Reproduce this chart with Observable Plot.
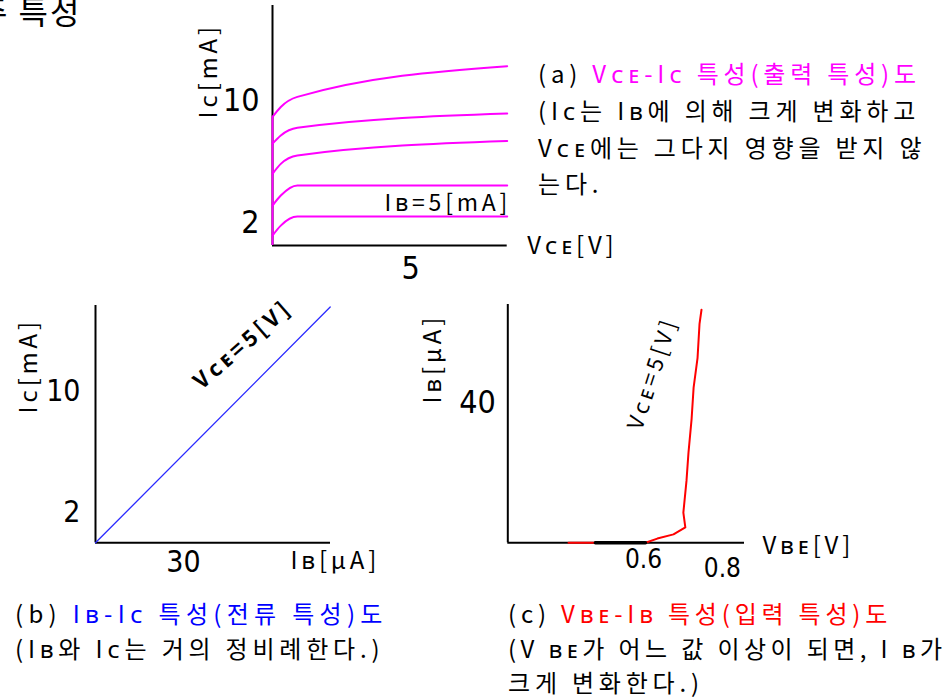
<!DOCTYPE html>
<html><head><meta charset="utf-8">
<script src="https://cdn.jsdelivr.net/npm/d3@7"></script>
<script src="https://cdn.jsdelivr.net/npm/@observablehq/plot@0.6"></script>
<style>
html,body{margin:0;padding:0;background:#fff;}
#root{position:relative;width:948px;height:700px;overflow:hidden;font-family:"Noto Sans CJK KR","Noto Sans",sans-serif;}
.ln{position:absolute;white-space:nowrap;color:#000;}
.svgbox{position:absolute;}
</style></head><body><div id="root"></div>
<script>
// ---------- data ----------
// (a) Vce-Ic output characteristics: Vce [V] sample points, Ic [mA] per curve
const aVce = [0, 0.3, 0.9, 8.5];
const aIc1 = [8.91, 9.56, 10.22, 12.23];
const aIc2 = [7.16, 7.70, 8.20, 9.13];
const aIc3 = [5.19, 5.84, 6.39, 7.33];
const aIc4 = [3.11, 3.77, 4.43, 4.43];
const aIc5 = [1.15, 1.80, 2.39, 2.39];
const aTicksY = [2, 10];
const aTicksX = [5];
// (b) Ib-Ic current characteristic
const bIb = [0, 80];
const bIc = [0, 15.6];
const bTicksY = [2, 10];
const bTicksX = [30];
// (c) Vbe-Ib input characteristic
const cVbe = [0.410, 0.478, 0.605, 0.635, 0.676, 0.706, 0.701, 0.709, 0.714, 0.722, 0.727, 0.737, 0.742, 0.747];
const cIb  = [0, 0, 0, 1.2, 2.4, 4.4, 8.6, 17.7, 25.7, 35.4, 44.2, 52.7, 62.4, 66.4];
const cDark = [0.478, 0.605];
const cTicksY = [40];
const cTicksX = [0.6, 0.8];

const MAG = "#ff00ff", BLUE = "#2a2aff", RED = "#ff0000";
const KR = "'Noto Sans CJK KR','Noto Sans',sans-serif";
const NUM = "'Liberation Sans Narrow','DejaVu Sans Condensed',sans-serif";
const root = document.getElementById("root");
function place(svg, left, top) {
  // wider letter spacing for the label texts (not the tick numbers)
  svg.querySelectorAll("g[aria-label='text']").forEach(g => {
    if ((g.getAttribute("font-family") || "") !== NUM) g.setAttribute("letter-spacing", "3.8");
  });
  const d = document.createElement("div");
  d.className = "svgbox"; d.style.left = left + "px"; d.style.top = top + "px";
  d.appendChild(svg); root.appendChild(d);
}
const baseStyle = {fontFamily: KR, background: "transparent", overflow: "visible", color: "#000"};

// ---------- (a) ----------
const aCurves = [aIc1, aIc2, aIc3, aIc4, aIc5];
const aData = aCurves.flatMap((ys, k) => ys.map((y, j) => ({vce: aVce[j], ic: y, k})));
const aYmin = 0.5;
place(Plot.plot({
  width: 440, height: 280,
  marginLeft: 92, marginRight: 113.3, marginTop: 5, marginBottom: 35,
  x: {domain: [0, 8.5], axis: null},
  y: {domain: [aYmin, 16.2], axis: null},
  style: baseStyle,
  marks: [
    Plot.ruleX([0], {stroke: "#000", strokeWidth: 2}),
    Plot.ruleY([aYmin], {stroke: "#000", strokeWidth: 2}),
    Plot.ruleX([0], {y1: aYmin, y2: aIc1[0], stroke: MAG, strokeWidth: 2}),
    Plot.line(aData, {x: "vce", y: "ic", z: "k", stroke: MAG, strokeWidth: 2, curve: "monotone-x"}),
    Plot.text(aTicksY, {x: 0, y: d => d, text: d => String(d), textAnchor: "end", dx: -13, fontSize: 32, fontFamily: NUM}),
    Plot.text(aTicksX, {x: d => d, y: aYmin, text: d => String(d), dy: 23, fontSize: 32, fontFamily: NUM}),
    Plot.text(["Iᴄ[mA]"], {frameAnchor: "top-left", dx: -73, dy: 113, rotate: -90, textAnchor: "start", fontSize: 24, fontFamily: KR}),
    Plot.text(["Vᴄᴇ[V]"], {frameAnchor: "bottom-right", dx: 20, dy: 8, textAnchor: "start", fontSize: 24, fontFamily: KR}),
    Plot.text([{vce: aVce[aVce.length - 1], ic: aIc5[aIc5.length - 1]}], {x: "vce", y: "ic", text: () => "Iʙ=5[mA]", textAnchor: "end", dx: 4, dy: -13, fontSize: 23, fontFamily: KR})
  ]
}), 180, 0);

// ---------- (b) ----------
const bData = bIb.map((v, i) => ({ib: v, ic: bIc[i]}));
place(Plot.plot({
  width: 400, height: 300,
  marginLeft: 95, marginRight: 70, marginTop: 15, marginBottom: 47.7,
  x: {domain: [0, 80.1], axis: null},
  y: {domain: [0, 15.7], axis: null},
  style: baseStyle,
  marks: [
    Plot.ruleX([0], {stroke: "#000", strokeWidth: 2}),
    Plot.ruleY([0], {stroke: "#000", strokeWidth: 2}),
    Plot.line(bData, {x: "ib", y: "ic", stroke: BLUE, strokeWidth: 1.3}),
    Plot.text(bTicksY, {x: 0, y: d => d, text: d => String(d), textAnchor: "end", dx: -15, fontSize: 30, fontFamily: NUM}),
    Plot.text(bTicksX, {x: d => d, y: 0, text: d => String(d), dy: 20, fontSize: 30, fontFamily: NUM}),
    Plot.text(["Iᴄ[mA]"], {frameAnchor: "top-left", dx: -76, dy: 108, rotate: -90, textAnchor: "start", fontSize: 24, fontFamily: KR}),
    Plot.text(["Iʙ[μA]"], {frameAnchor: "bottom-right", dx: -40, dy: 26, textAnchor: "start", fontSize: 24, fontFamily: KR}),
    Plot.text(["Vᴄᴇ=5[V]"], {frameAnchor: "top-left", dx: 96, dy: 73, rotate: -41, textAnchor: "start", fontSize: 22, fontWeight: "bold", fontFamily: KR})
  ]
}), 0, 290);

// ---------- (c) ----------
const cData = cVbe.map((v, i) => ({vbe: v, ib: cIb[i]}));
place(Plot.plot({
  width: 548, height: 300,
  marginLeft: 107.3, marginRight: 204, marginTop: 14, marginBottom: 47.7,
  x: {domain: [0.256, 0.856], axis: null},
  y: {domain: [0, 67.9], axis: null},
  style: baseStyle,
  marks: [
    Plot.ruleX([0.256], {stroke: "#000", strokeWidth: 2}),
    Plot.ruleY([0], {stroke: "#000", strokeWidth: 2}),
    Plot.line(cData, {x: "vbe", y: "ib", stroke: RED, strokeWidth: 2}),
    Plot.line(cDark.map(v => ({vbe: v, ib: 0})), {x: "vbe", y: "ib", stroke: "#000", strokeWidth: 3.5}),
    Plot.text(cTicksY, {x: 0.256, y: d => d, text: d => String(d), textAnchor: "end", dx: -12, fontSize: 32, fontFamily: NUM}),
    Plot.text([cTicksX[0]], {x: d => d, y: 0, text: d => String(d), dy: 17, fontSize: 26, fontFamily: NUM}),
    Plot.text([cTicksX[1]], {x: d => d, y: 0, text: d => String(d), dy: 26, fontSize: 26, fontFamily: NUM}),
    Plot.text(["Iʙ[μA]"], {frameAnchor: "top-left", dx: -84, dy: 99, rotate: -90, textAnchor: "start", fontSize: 24, fontFamily: KR}),
    Plot.text(["Vʙᴇ[V]"], {frameAnchor: "bottom-right", dx: 18, dy: 11, textAnchor: "start", fontSize: 24, fontFamily: KR}),
    Plot.text(["Vᴄᴇ=5[V]"], {frameAnchor: "top-left", dx: 119, dy: 122, rotate: -72, textAnchor: "start", fontSize: 22, fontFamily: KR})
  ]
}), 400, 290);

// ---------- text ----------
function line(html, left, cy, size, ls) {
  const d = document.createElement("div");
  d.className = "ln";
  const s = size || 24;
  d.style.fontSize = s + "px"; d.style.lineHeight = s + "px";
  d.style.letterSpacing = (ls == null ? 4.8 : ls) + "px";
  d.style.left = left + "px"; d.style.top = (cy - s / 2) + "px";
  d.innerHTML = html; root.appendChild(d);
}
line("주 특성", -22, 10, 32, 2);
line(`(a) <span style="color:${MAG}">Vᴄᴇ-Iᴄ 특성(출력 특성)도</span>`, 538, 73);
line("(Iᴄ는 Iʙ에 의해 크게 변화하고", 538, 110);
line("Vᴄᴇ에는 그다지 영향을 받지 않", 538, 147);
line("는다.", 538, 183);
line(`(b) <span style="color:#0000ff">Iʙ-Iᴄ 특성(전류 특성)도</span>`, 15, 613, 24, 5.3);
line("(Iʙ와 Iᴄ는 거의 정비례한다.)", 15, 648);
line(`(c) <span style="color:${RED}">Vʙᴇ-Iʙ 특성(입력 특성)도</span>`, 508, 613);
line("(V ʙᴇ가 어느 값 이상이 되면, I ʙ가", 508, 648, 24, 4.4);
line("크게 변화한다.)", 508, 682);
</script></body></html>
